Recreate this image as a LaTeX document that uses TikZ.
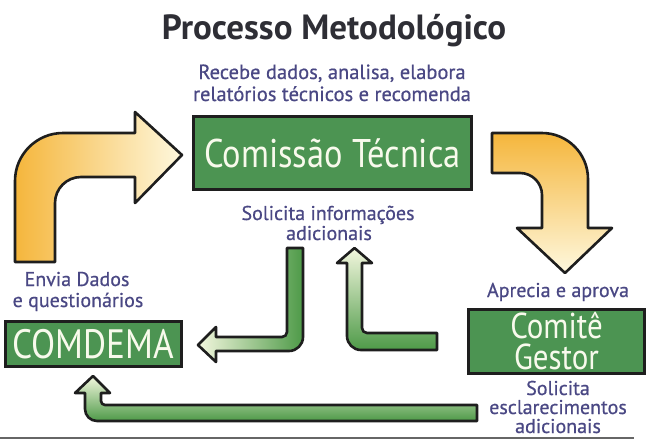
\documentclass[tikz,border=0pt]{standalone}
\usepackage{fontspec}
\setmainfont{PT Sans}
\newfontfamily\boxfont{PT Sans}[FakeStretch=0.86]
\newfontfamily\lblfont{PT Sans}[FakeBold=0.6]
\definecolor{boxgreen}{HTML}{4C9452}
\definecolor{edge}{HTML}{1E1E1E}
\definecolor{txtblue}{HTML}{4A4884}
\definecolor{titlegray}{HTML}{2E2E35}
\definecolor{boxtxt}{HTML}{F8FAEC}
\definecolor{yorange}{HTML}{F5B63C}
\definecolor{ymid}{HTML}{F9D66E}
\definecolor{ypale}{HTML}{FEF8DE}
\definecolor{ggreen}{HTML}{4E9A48}
\definecolor{gmid}{HTML}{A9CD64}
\definecolor{gpale}{HTML}{F3F7DE}
\begin{document}
\begin{tikzpicture}[x=1pt,y=-1pt,
  gbox/.style={draw=edge, line width=3pt, fill=boxgreen, text=boxtxt, inner sep=0pt, align=center},
  lbl/.style={text=txtblue, inner sep=0pt, anchor=base, font=\lblfont\fontsize{20}{22}\selectfont},
  yarrow/.style={draw=edge, line width=2.6pt, line join=round},
  garrow/.style={draw=edge, line width=2.6pt, line join=round}]
\useasboundingbox (0,0) rectangle (652,442);
\fill[white] (0,0) rectangle (652,442);

% title and labels
\node[inner sep=0pt, anchor=base, text=titlegray, font=\fontsize{35}{38}\selectfont\bfseries] (title) at (334,39) {Processo Metodológico};
\node[lbl, font=\lblfont\fontsize{20.5}{22}\selectfont] (sub1) at (332,79) {Recebe dados, analisa, elabora};
\node[lbl, font=\lblfont\fontsize{20.5}{22}\selectfont] (sub2) at (332,101) {relatórios técnicos e recomenda};
\node[lbl] (sol1) at (328,220) {Solicita informações};
\node[lbl] (sol2) at (329,240) {adicionais};
\node[lbl] (env1) at (77,286) {Envia Dados};
\node[lbl] (env2) at (78,307) {e questionários};
\node[lbl] (apr) at (558,297) {Aprecia e aprova};
\node[lbl] (esc1) at (558,395) {Solicita};
\node[lbl] (esc2) at (558,414) {esclarecimentos};
\node[lbl] (esc3) at (558,433) {adicionais};

% yellow arrows
\shade[yarrow, left color=yorange, middle color=ymid, right color=ypale]
  (15,262) [rounded corners=48pt] -- (15,133) [sharp corners] -- (135,133) -- (135,112) -- (182,155)
  -- (135,203) -- (135,177) [rounded corners=26pt] -- (55,177) [sharp corners] -- (55,262) -- cycle;
\shade[yarrow, top color=yorange, middle color=ymid, bottom color=ypale]
  (492,133) [rounded corners=46pt] -- (588,133) [sharp corners] -- (588,228) -- (612,228) -- (565,273)
  -- (517,228) -- (542,228) [rounded corners=22pt] -- (542,173) [sharp corners] -- (492,173) -- cycle;

% green arrows
\shade[garrow, left color=gpale, middle color=gmid, right color=ggreen]
  (287,248) -- (303,248) [rounded corners=14pt] -- (303,351) [sharp corners] -- (216,351) -- (216,362)
  -- (198,345) -- (216,327) -- (216,337) [rounded corners=5pt] -- (287,337) [sharp corners] -- cycle;
\shade[garrow, top color=gpale, middle color=gmid, bottom color=ggreen]
  (437,333) -- (437,350) [rounded corners=14pt] -- (347,350) [sharp corners] -- (347,263) -- (337,263)
  -- (354.5,248) -- (372,263) -- (362,263) [rounded corners=5pt] -- (362,333) [sharp corners] -- cycle;
\shade[garrow, top color=gpale, middle color=gmid, bottom color=ggreen]
  (477,405) -- (477,421) [rounded corners=12pt] -- (85,421) [sharp corners] -- (85,393) -- (75,393)
  -- (93,376) -- (110,393) -- (101,393) [rounded corners=4pt] -- (101,405) [sharp corners] -- cycle;

% boxes
\node[gbox, minimum width=278pt, minimum height=73pt, font=\boxfont\fontsize{40}{44}\selectfont] (ct) at (332.5,153) {Comissão Técnica};
\node[gbox, minimum width=176pt, minimum height=45pt, font=\boxfont\fontsize{41}{44}\selectfont] (comdema) at (93.5,344) {COMDEMA};
\node[gbox, minimum width=176pt, minimum height=64pt, font=\boxfont\fontsize{36}{31}\selectfont] (cg) at (556.5,341.5) {Comitê\\Gestor};

% bottom rule
\draw[line width=1.6pt, draw=black!60] (0,438) -- (634,438);
\end{tikzpicture}
\end{document}
